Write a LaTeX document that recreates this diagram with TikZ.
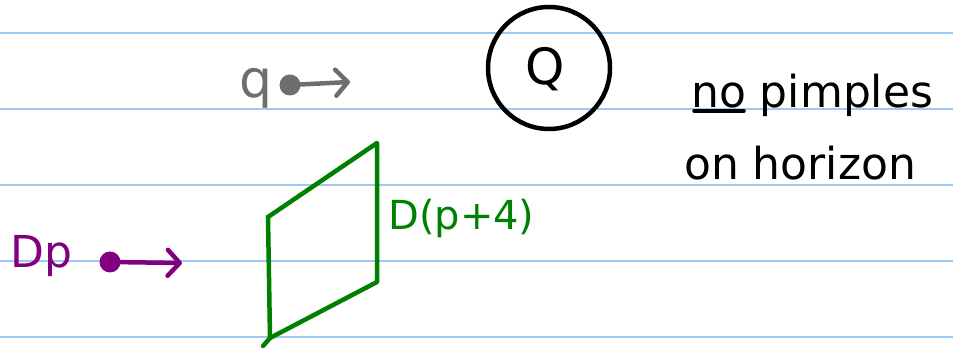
\documentclass[tikz,border=0pt]{standalone}
\usepackage{fontspec}
\setmainfont{DejaVu Sans}
\usepackage{tikz}
\usetikzlibrary{arrows.meta}
\usepackage{xcolor}
\definecolor{ruleblue}{RGB}{160,200,245}
\definecolor{inkgray}{RGB}{110,110,110}
\definecolor{inkpurple}{RGB}{128,0,128}
\definecolor{inkgreen}{RGB}{0,128,0}
\begin{document}
\begin{tikzpicture}[x=1pt,y=-1pt,line cap=round,line join=round,
  ruleline/.style={ruleblue,line width=2.2pt},
  ink/.style={line width=4.5pt},
  pen/.style={inner sep=0pt,font=\fontsize{44}{50}\selectfont},
  blob/.style={circle,fill,inner sep=0pt,minimum size=21pt},
  shot/.style={ink,-{Straight Barb[round,length=12pt,width=26pt]}}]
\useasboundingbox (0,0) rectangle (953,352);
\foreach \yy in {33,109,185,261,337}
  \draw[ruleline] (0,\yy) -- (953,\yy);
% probe charge
\node[pen,inkgray,anchor=base,font=\fontsize{52}{58}\selectfont] (q) at (256,98){q};
\node[blob,inkgray] (qdot) at (290,85){};
\coordinate (qtip) at (350,82);
\draw[shot,inkgray] (qdot) -- (qtip);
% central charge
\node[draw,ink,circle,minimum size=122pt,inner sep=0pt] (Qball) at (549,68){};
\node[pen,font=\fontsize{50}{56}\selectfont] (Q) at (545,69){Q};
% remark
\node[pen,anchor=base west] (rem1) at (691,108){no pimples};
\node[pen,anchor=base west] (rem2) at (684,180){on horizon};
\draw[line width=3.5pt] (rem1.base west) ++(3,3) -- ++(50,0);
% brane
\draw[ink,inkgreen] (268,217) -- (377,143) -- (377,282) -- (270,338);
\draw[ink,inkgreen] (268,217) -- (270,338) -- (263,346);
\node[pen,inkgreen,anchor=base west,font=\fontsize{40}{46}\selectfont] (Dp4) at (388,230){D(p+4)};
% moving brane
\node[pen,inkpurple,anchor=base west] (Dp) at (10,268){Dp};
\node[blob,inkpurple] (pdot) at (110,262){};
\coordinate (ptip) at (182,263);
\draw[shot,inkpurple] (pdot) -- (ptip);
\end{tikzpicture}
\end{document}
